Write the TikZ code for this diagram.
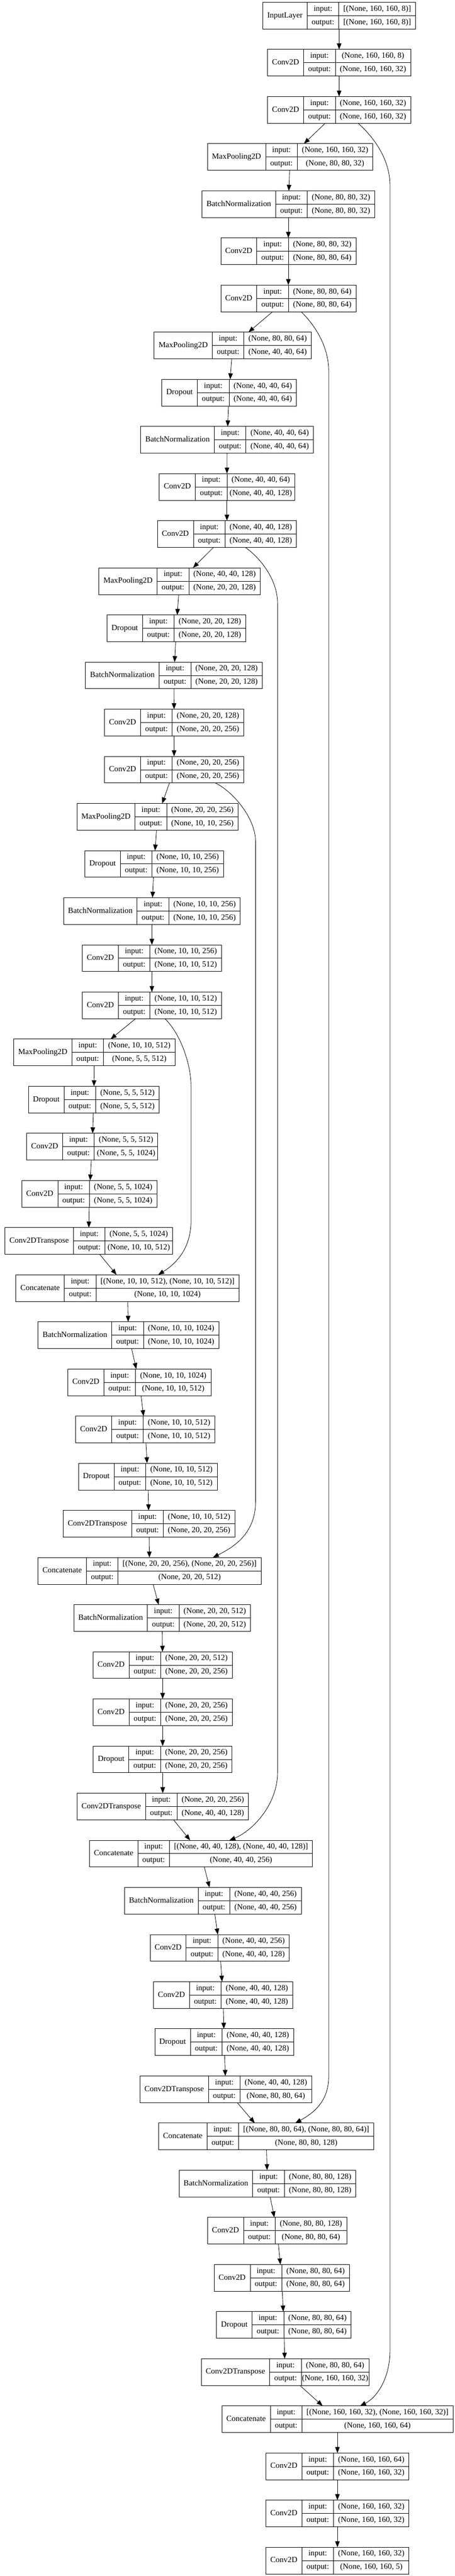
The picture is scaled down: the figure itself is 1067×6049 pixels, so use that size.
\documentclass[tikz,border=0pt]{standalone}
\usepackage{fontspec}
\setmainfont{Liberation Serif}
\usetikzlibrary{arrows.meta}
\font\LFont="Liberation Serif" at 14pt
\newlength\LwA \newlength\LwB \newlength\LwC \newlength\LwT \newlength\LwTmp
\newlength\Lpa \newlength\Lpb \newlength\Lca \newlength\Lcb \newlength\Lcc
\newcommand\knode[6]{%
  \setbox0=\hbox{\LFont #4}\LwA=\wd0 \addtolength\LwA{16pt}%
  \setbox0=\hbox{\LFont output:}\LwB=\wd0 \addtolength\LwB{16pt}%
  \setbox0=\hbox{\LFont #5}\LwC=\wd0
  \setbox0=\hbox{\LFont #6}\LwTmp=\wd0
  \ifdim\LwTmp>\LwC \LwC=\LwTmp\fi
  \addtolength\LwC{16pt}%
  \LwT=\LwA \advance\LwT by \LwB \advance\LwT by \LwC
  \Lpa=\LwA \Lpb=\LwA \advance\Lpb by \LwB
  \Lca=0.5\LwA
  \Lcb=0.5\LwB \advance\Lcb by \Lpa
  \Lcc=0.5\LwC \advance\Lcc by \Lpb
  \node[lbox, minimum width=\the\LwT] (#1) at (#3,{36.667+110.667*(#2-1)}) {};
  \draw[cell] ([xshift=\the\Lpa]#1.north west) -- ([xshift=\the\Lpa]#1.south west);
  \draw[cell] ([xshift=\the\Lpb]#1.north west) -- ([xshift=\the\Lpb]#1.south west);
  \draw[cell] ([xshift=\the\Lpa]#1.west) -- (#1.east);
  \node[txt] (#1-t) at ([xshift=\the\Lca]#1.west) {#4};
  \node[txt] (#1-li) at ([xshift=\the\Lcb,yshift=11.75pt]#1.west) {input:};
  \node[txt] (#1-lo) at ([xshift=\the\Lcb,yshift=-11.75pt]#1.west) {output:};
  \node[txt] (#1-vi) at ([xshift=\the\Lcc,yshift=11.75pt]#1.west) {#5};
  \node[txt] (#1-vo) at ([xshift=\the\Lcc,yshift=-11.75pt]#1.west) {#6};
}
\begin{document}
\begin{tikzpicture}[x=0.75pt,y=-0.75pt,
  lbox/.style={draw, line width=0.75pt, rectangle, minimum height=47pt, inner sep=0pt, outer sep=0pt},
  cell/.style={line width=0.75pt},
  txt/.style={inner sep=0pt, font=\LFont, text height=9.6pt, text depth=2.6pt},
  conn/.style={line width=0.75pt, -{Triangle[length=10.5pt,width=8pt]}}]
\useasboundingbox[fill=white] (0,0) rectangle (1067,6049);
\knode{n1}{1}{795.3}{InputLayer}{[(None, 160, 160, 8)]}{[(None, 160, 160, 8)]}
\knode{n2}{2}{795.3}{Conv2D}{(None, 160, 160, 8)}{(None, 160, 160, 32)}
\knode{n3}{3}{795.3}{Conv2D}{(None, 160, 160, 32)}{(None, 160, 160, 32)}
\knode{n4}{4}{680.3}{MaxPooling2D}{(None, 160, 160, 32)}{(None, 80, 80, 32)}
\knode{n5}{5}{676.2}{BatchNormalization}{(None, 80, 80, 32)}{(None, 80, 80, 32)}
\knode{n6}{6}{676.2}{Conv2D}{(None, 80, 80, 32)}{(None, 80, 80, 64)}
\knode{n7}{7}{676.2}{Conv2D}{(None, 80, 80, 64)}{(None, 80, 80, 64)}
\knode{n8}{8}{545.8}{MaxPooling2D}{(None, 80, 80, 64)}{(None, 40, 40, 64)}
\knode{n9}{9}{537.3}{Dropout}{(None, 40, 40, 64)}{(None, 40, 40, 64)}
\knode{n10}{10}{532.5}{BatchNormalization}{(None, 40, 40, 64)}{(None, 40, 40, 64)}
\knode{n11}{11}{532.2}{Conv2D}{(None, 40, 40, 64)}{(None, 40, 40, 128)}
\knode{n12}{12}{532.2}{Conv2D}{(None, 40, 40, 128)}{(None, 40, 40, 128)}
\knode{n13}{13}{421.2}{MaxPooling2D}{(None, 40, 40, 128)}{(None, 20, 20, 128)}
\knode{n14}{14}{413.4}{Dropout}{(None, 20, 20, 128)}{(None, 20, 20, 128)}
\knode{n15}{15}{407.9}{BatchNormalization}{(None, 20, 20, 128)}{(None, 20, 20, 128)}
\knode{n16}{16}{408.3}{Conv2D}{(None, 20, 20, 128)}{(None, 20, 20, 256)}
\knode{n17}{17}{408.3}{Conv2D}{(None, 20, 20, 256)}{(None, 20, 20, 256)}
\knode{n18}{18}{369.4}{MaxPooling2D}{(None, 20, 20, 256)}{(None, 10, 10, 256)}
\knode{n19}{19}{361.3}{Dropout}{(None, 10, 10, 256)}{(None, 10, 10, 256)}
\knode{n20}{20}{356.2}{BatchNormalization}{(None, 10, 10, 256)}{(None, 10, 10, 256)}
\knode{n21}{21}{356.2}{Conv2D}{(None, 10, 10, 256)}{(None, 10, 10, 512)}
\knode{n22}{22}{356.2}{Conv2D}{(None, 10, 10, 512)}{(None, 10, 10, 512)}
\knode{n23}{23}{221.3}{MaxPooling2D}{(None, 10, 10, 512)}{(None, 5, 5, 512)}
\knode{n24}{24}{220.0}{Dropout}{(None, 5, 5, 512)}{(None, 5, 5, 512)}
\knode{n25}{25}{216.2}{Conv2D}{(None, 5, 5, 512)}{(None, 5, 5, 1024)}
\knode{n26}{26}{209.4}{Conv2D}{(None, 5, 5, 1024)}{(None, 5, 5, 1024)}
\knode{n27}{27}{208.0}{Conv2DTranspose}{(None, 5, 5, 1024)}{(None, 10, 10, 512)}
\knode{n28}{28}{299.0}{Concatenate}{[(None, 10, 10, 512), (None, 10, 10, 512)]}{(None, 10, 10, 1024)}
\knode{n29}{29}{301.3}{BatchNormalization}{(None, 10, 10, 1024)}{(None, 10, 10, 1024)}
\knode{n30}{30}{326.9}{Conv2D}{(None, 10, 10, 1024)}{(None, 10, 10, 512)}
\knode{n31}{31}{340.5}{Conv2D}{(None, 10, 10, 512)}{(None, 10, 10, 512)}
\knode{n32}{32}{346.6}{Dropout}{(None, 10, 10, 512)}{(None, 10, 10, 512)}
\knode{n33}{33}{349.4}{Conv2DTranspose}{(None, 10, 10, 512)}{(None, 20, 20, 256)}
\knode{n34}{34}{350.7}{Concatenate}{[(None, 20, 20, 256), (None, 20, 20, 256)]}{(None, 20, 20, 512)}
\knode{n35}{35}{380.3}{BatchNormalization}{(None, 20, 20, 512)}{(None, 20, 20, 512)}
\knode{n36}{36}{381.4}{Conv2D}{(None, 20, 20, 512)}{(None, 20, 20, 256)}
\knode{n37}{37}{381.4}{Conv2D}{(None, 20, 20, 256)}{(None, 20, 20, 256)}
\knode{n38}{38}{381.4}{Dropout}{(None, 20, 20, 256)}{(None, 20, 20, 256)}
\knode{n39}{39}{381.7}{Conv2DTranspose}{(None, 20, 20, 256)}{(None, 40, 40, 128)}
\knode{n40}{40}{471.3}{Concatenate}{[(None, 40, 40, 128), (None, 40, 40, 128)]}{(None, 40, 40, 256)}
\knode{n41}{41}{499.2}{BatchNormalization}{(None, 40, 40, 256)}{(None, 40, 40, 256)}
\knode{n42}{42}{515.2}{Conv2D}{(None, 40, 40, 256)}{(None, 40, 40, 128)}
\knode{n43}{43}{523.0}{Conv2D}{(None, 40, 40, 128)}{(None, 40, 40, 128)}
\knode{n44}{44}{525.7}{Dropout}{(None, 40, 40, 128)}{(None, 40, 40, 128)}
\knode{n45}{45}{529.5}{Conv2DTranspose}{(None, 40, 40, 128)}{(None, 80, 80, 64)}
\knode{n46}{46}{624.1}{Concatenate}{[(None, 80, 80, 64), (None, 80, 80, 64)]}{(None, 80, 80, 128)}
\knode{n47}{47}{627.2}{BatchNormalization}{(None, 80, 80, 128)}{(None, 80, 80, 128)}
\knode{n48}{48}{649.7}{Conv2D}{(None, 80, 80, 128)}{(None, 80, 80, 64)}
\knode{n49}{49}{660.6}{Conv2D}{(None, 80, 80, 64)}{(None, 80, 80, 64)}
\knode{n50}{50}{665.7}{Dropout}{(None, 80, 80, 64)}{(None, 80, 80, 64)}
\knode{n51}{51}{668.4}{Conv2DTranspose}{(None, 80, 80, 64)}{(None, 160, 160, 32)}
\knode{n52}{52}{791.3}{Concatenate}{[(None, 160, 160, 32), (None, 160, 160, 32)]}{(None, 160, 160, 64)}
\knode{n53}{53}{791.3}{Conv2D}{(None, 160, 160, 64)}{(None, 160, 160, 32)}
\knode{n54}{54}{791.3}{Conv2D}{(None, 160, 160, 32)}{(None, 160, 160, 32)}
\knode{n55}{55}{791.3}{Conv2D}{(None, 160, 160, 32)}{(None, 160, 160, 5)}
% sequential connectors
\foreach \i [evaluate=\i as \j using int(\i+1)] in {1,...,54}{
  \draw[conn] (n\i) -- (n\j);
}
% skip connectors
\coordinate (sA) at (839.7,0); \coordinate (tA) at (844.4,0);
\coordinate (sB) at (706.2,0); \coordinate (tB) at (692.6,0);
\coordinate (sC) at (575.4,0); \coordinate (tC) at (538.0,0);
\coordinate (sD) at (505.3,0); \coordinate (tD) at (499.2,0);
\coordinate (sE) at (386.8,0); \coordinate (tE) at (371.1,0);
\draw[conn] (n3.south -| sA) .. controls (872,318) and (914.6,370) .. (914.6,436)
  -- (914.6,5518) .. controls (914.6,5590) and (880,5632) .. (n52.north -| tA);
\draw[conn] (n7.south -| sB) .. controls (735,760) and (770.9,810) .. (770.9,872)
  -- (770.9,4875) .. controls (770.9,4935) and (735,4962) .. (n46.north -| tB);
\draw[conn] (n12.south -| sC) .. controls (610,1310) and (651,1360) .. (651,1418)
  -- (651,4161) .. controls (651,4240) and (590,4300) .. (n40.north -| tC);
\draw[conn] (n17.south -| sD) .. controls (545,1858) and (599.3,1920) .. (599.3,1976)
  -- (599.3,3526) .. controls (599.3,3600) and (550,3632) .. (n34.north -| tD);
\draw[conn] (n22.south -| sE) .. controls (425,2430) and (448,2500) .. (448,2552)
  -- (448,2866) .. controls (448,2930) and (415,2966) .. (n28.north -| tE);
\end{tikzpicture}
\end{document}
